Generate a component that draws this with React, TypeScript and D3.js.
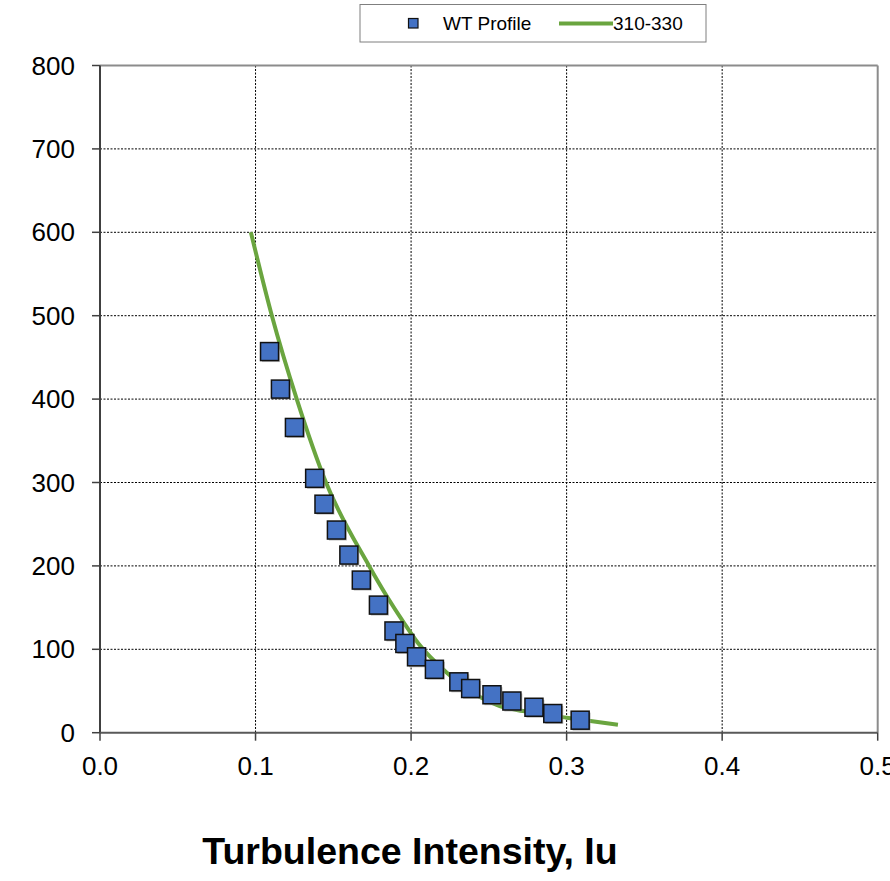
import React from 'react'
import { scaleLinear, line, curveMonotoneX } from 'd3'

// wind tunnel profile (squares)
const wtIu = [0.109, 0.116, 0.125, 0.138, 0.144, 0.152, 0.160, 0.168, 0.179, 0.189, 0.196, 0.2035, 0.215, 0.2307, 0.2383, 0.252, 0.2648, 0.279, 0.2911, 0.3087]
const wtZ = [457, 412, 366, 305, 274, 243, 213, 183, 153, 122, 107, 91, 76, 61, 53, 45.5, 38, 30.5, 23, 15]

// target curve 310-330
const fitIu = [0.097, 0.1105, 0.1265, 0.1453, 0.173, 0.1843, 0.195, 0.2047, 0.223, 0.244, 0.257, 0.272, 0.3, 0.333]
const fitZ = [600, 500, 400, 300, 200, 164, 133, 107, 72, 43, 32, 26, 18, 9.6]

const xTicks = [0, 0.1, 0.2, 0.3, 0.4, 0.5]
const yTicks = [0, 100, 200, 300, 400, 500, 600, 700, 800]

const W = 890
const H = 881
const FONT = 'Liberation Sans, Arial, sans-serif'

export default function App() {
    const x = scaleLinear().domain([0, 0.5]).range([100, 877.7])
    const y = scaleLinear().domain([0, 800]).range([732.7, 65.5])
    const [x0, x1] = x.range()
    const [y0, y1] = y.range()

    const path = line<number>()
        .x((d) => x(fitIu[d]))
        .y((d) => y(fitZ[d]))
        .curve(curveMonotoneX)(fitIu.map((_, i) => i))

    const ms = 18

    return (
        <svg width={W} height={H} style={{ position: 'absolute', left: 0, top: 0, background: '#fff' }}>
            {/* grid */}
            {yTicks.filter((t) => t > 0 && t < 800).map((t) => (
                <line key={'gy' + t} x1={x0} x2={x1} y1={y(t)} y2={y(t)} stroke="#000" strokeWidth={1} strokeDasharray="2,1.5" />
            ))}
            {xTicks.filter((t) => t > 0 && t < 0.5).map((t) => (
                <line key={'gx' + t} x1={x(t)} x2={x(t)} y1={y1} y2={y0} stroke="#000" strokeWidth={1} strokeDasharray="2,1.5" />
            ))}

            {/* border top/right */}
            <line x1={x0} x2={x1} y1={y1} y2={y1} stroke="#8c8c8c" strokeWidth={2} />
            <line x1={x1} x2={x1} y1={y1} y2={y0} stroke="#8c8c8c" strokeWidth={2} />

            {/* axes */}
            <line x1={x0} x2={x0} y1={y1} y2={y0} stroke="#404040" strokeWidth={2} />
            <line x1={x0} x2={x1} y1={y0} y2={y0} stroke="#595959" strokeWidth={2} />
            {yTicks.map((t) => (
                <g key={'yt' + t}>
                    <line x1={x0 - 8} x2={x0} y1={y(t)} y2={y(t)} stroke="#404040" strokeWidth={1.5} />
                    <text x={75} y={y(t) + 9} textAnchor="end" fontSize={26} fontFamily={FONT} fill="#000">{t}</text>
                </g>
            ))}
            {xTicks.map((t) => (
                <g key={'xt' + t}>
                    <line x1={x(t)} x2={x(t)} y1={y0} y2={y0 + 8} stroke="#404040" strokeWidth={1.5} />
                    <text x={x(t)} y={775} textAnchor="middle" fontSize={26} fontFamily={FONT} fill="#000">{t.toFixed(1)}</text>
                </g>
            ))}

            {/* fitted curve */}
            <path d={path || ''} fill="none" stroke="#6aa53f" strokeWidth={4} />

            {/* markers */}
            {wtIu.map((v, i) => (
                <g key={'m' + i}>
                    <rect x={x(v) - ms / 2 + 1.5} y={y(wtZ[i]) - ms / 2 + 1.5} width={ms} height={ms} fill="#9a9a9a" opacity={0.6} />
                    <rect x={x(v) - ms / 2} y={y(wtZ[i]) - ms / 2} width={ms} height={ms} fill="#4472c4" stroke="#111" strokeWidth={1.5} />
                </g>
            ))}

            {/* legend */}
            <rect x={360} y={4.5} width={346} height={37.5} fill="#fff" stroke="#7f7f7f" strokeWidth={1} />
            <rect x={408.5} y={18.5} width={9.5} height={9.5} fill="#4472c4" stroke="#111" strokeWidth={1.2} />
            <text x={443} y={30} fontSize={19} fontFamily={FONT} fill="#000">WT Profile</text>
            <line x1={559} x2={613} y1={23.5} y2={23.5} stroke="#6aa53f" strokeWidth={4} />
            <text x={613} y={30} fontSize={19} fontFamily={FONT} fill="#000">310-330</text>

            {/* x title */}
            <text x={410} y={864} textAnchor="middle" fontSize={37.5} fontWeight="bold" fontFamily={FONT} fill="#000">Turbulence Intensity, Iu</text>
        </svg>
    )
}
